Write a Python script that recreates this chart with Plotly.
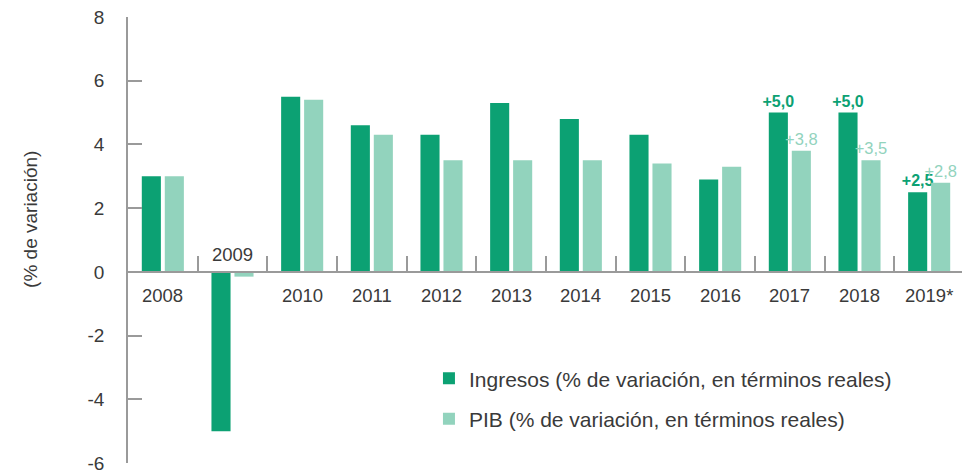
import plotly.graph_objects as go

years = ["2008", "2009", "2010", "2011", "2012", "2013", "2014",
         "2015", "2016", "2017", "2018", "2019*"]
ingresos = [3.0, -5.0, 5.5, 4.6, 4.3, 5.3, 4.8, 4.3, 2.9, 5.0, 5.0, 2.5]
pib = [3.0, -0.15, 5.4, 4.3, 3.5, 3.5, 3.5, 3.4, 3.3, 3.8, 3.5, 2.8]
labelled_years = ["2017", "2018", "2019*"]
y_ticks = [-6, -4, -2, 0, 2, 4, 6, 8]

DARK = "#0ca173"
LIGHT = "#92d3bd"
AXIS = "#9a9a9a"
TEXT = "#3a3a3a"
FONT = "Liberation Sans"

y_min, y_max = -6, 8


def value_labels(values):
    return [f"+{v:.1f}".replace(".", ",") if y in labelled_years else ""
            for y, v in zip(years, values)]


fig = go.Figure()

fig.add_trace(go.Bar(
    x=years, y=ingresos, name="Ingresos (% de variación, en términos reales)",
    marker=dict(color=DARK, line=dict(width=0)),
    text=value_labels(ingresos), textposition="outside",
    textfont=dict(family=FONT, size=16, color=DARK, weight="bold"),
    constraintext="none", cliponaxis=False, legendgroup="a",
))
fig.add_trace(go.Bar(
    x=years, y=pib, name="PIB (% de variación, en términos reales)",
    marker=dict(color=LIGHT, line=dict(width=0)),
    text=value_labels(pib), textposition="outside",
    textfont=dict(family=FONT, size=16.5, color=LIGHT),
    constraintext="none", cliponaxis=False, legendgroup="b",
))

# year labels sit on the zero line: below it, or above it when the bar is negative
for i, (y, a, b) in enumerate(zip(years, ingresos, pib)):
    below = min(a, b) > -1
    fig.add_annotation(
        x=i, y=0, xref="x", yref="y", text=y, showarrow=False,
        yshift=-24 if below else 17,
        font=dict(family=FONT, size=18.5, color=TEXT),
    )

fig.add_annotation(
    x=-97 / 836, y=0.545, xref="paper", yref="paper",
    xanchor="center", yanchor="middle",
    text="(% de variación)", textangle=-90, showarrow=False,
    font=dict(family=FONT, size=19, color=TEXT),
)

# the page adds an 8px body margin, so the figure is sized to fit the window
fig.update_layout(
    width=962, height=463,
    margin=dict(l=120, r=6, t=9, b=8, autoexpand=False),
    paper_bgcolor="white", plot_bgcolor="white",
    barmode="group", bargap=0.34, bargroupgap=0.17,
    font=dict(family=FONT, color=TEXT),
    showlegend=True,
    legend=dict(
        x=0.36, y=0.235, xanchor="left", yanchor="top",
        font=dict(family=FONT, size=21, color=TEXT),
        tracegroupgap=10, bgcolor="rgba(0,0,0,0)",
    ),
    xaxis=dict(
        type="category", categoryorder="array", categoryarray=years,
        range=[-0.5, len(years) - 0.5], automargin=False,
        anchor="free", position=(0 - y_min) / (y_max - y_min),
        showline=True, linecolor=AXIS, linewidth=1.5,
        ticks="inside", tickson="boundaries", ticklen=15,
        tickcolor=AXIS, tickwidth=1.5,
        showticklabels=False, showgrid=False, zeroline=False,
    ),
    yaxis=dict(
        range=[y_min, y_max], automargin=False,
        tickvals=y_ticks, ticktext=[str(v) for v in y_ticks],
        ticklabeloverflow="allow",
        showline=True, linecolor=AXIS, linewidth=1.5,
        ticks="inside", ticklen=14, tickcolor=AXIS, tickwidth=1.5,
        showgrid=False, zeroline=False,
        tickfont=dict(family=FONT, size=19, color=TEXT),
        ticklabelstandoff=18,
    ),
)

fig.write_html("out.html")
